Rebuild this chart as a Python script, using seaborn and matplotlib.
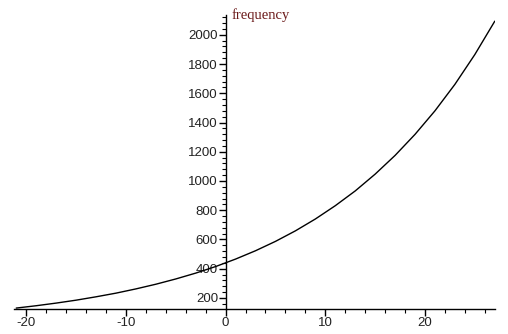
import numpy as np
import pandas as pd
import seaborn as sns
import matplotlib.pyplot as plt
from matplotlib.ticker import MultipleLocator

sns.set_style("white")
plt.rcParams['font.family'] = ['Liberation Sans', 'DejaVu Sans']
plt.rcParams['axes.unicode_minus'] = False

# semitones from A4 and the frequency
semitones = [-21, -19, -17, -15, -13, -11, -9, -7, -5, -3, -1, 1, 3,
             5, 7, 9, 11, 13, 15, 17, 19, 21, 23, 25, 27]
frequency = [131, 147, 165, 185, 208, 233, 262, 294, 330, 370, 415, 466, 523,
             587, 659, 740, 831, 932, 1047, 1175, 1319, 1480, 1661, 1865, 2093]
x_ticks = [-20, -10, 0, 10, 20]
y_ticks = [200, 400, 600, 800, 1000, 1200, 1400, 1600, 1800, 2000]

df = pd.DataFrame({"semitones": semitones, "frequency": frequency})

fig = plt.figure(figsize=(5.08, 3.34), dpi=100)
ax = fig.add_axes([0.028, 0.075, 0.946, 0.88])

sns.lineplot(data=df, x="semitones", y="frequency", color="black",
             linewidth=1.0, ax=ax)

ax.set_xlim(-21.2, 27)
ax.set_ylim(125, 2135)

# axes crossing at x = 0, like a maple plot
ax.spines['left'].set_position(('data', 0))
ax.spines['right'].set_visible(False)
ax.spines['top'].set_visible(False)
for s in ['left', 'bottom']:
    ax.spines[s].set_color("black")
    ax.spines[s].set_linewidth(1.0)

ax.set_xticks(x_ticks)
ax.set_yticks(y_ticks)
ax.xaxis.set_minor_locator(MultipleLocator(2))
ax.yaxis.set_minor_locator(MultipleLocator(40))
ax.tick_params(axis='both', which='both', bottom=True, left=True)
ax.tick_params(axis='both', which='major', direction='out', length=5,
               width=1, color='black', labelsize=9.5, pad=1,
               labelcolor='#222222')
ax.tick_params(axis='both', which='minor', direction='out', length=3,
               width=0.8, color='black')
ax.tick_params(axis='y', which='major', pad=0.5)

ax.set_xlabel("")
ax.set_ylabel("")
ax.grid(False)

ax.text(0.6, 2085, "frequency", color="#6b1a1a", fontsize=10.5,
        family=['Liberation Serif', 'DejaVu Serif'], va='bottom', ha='left')

fig.savefig("out.png", dpi=100)
